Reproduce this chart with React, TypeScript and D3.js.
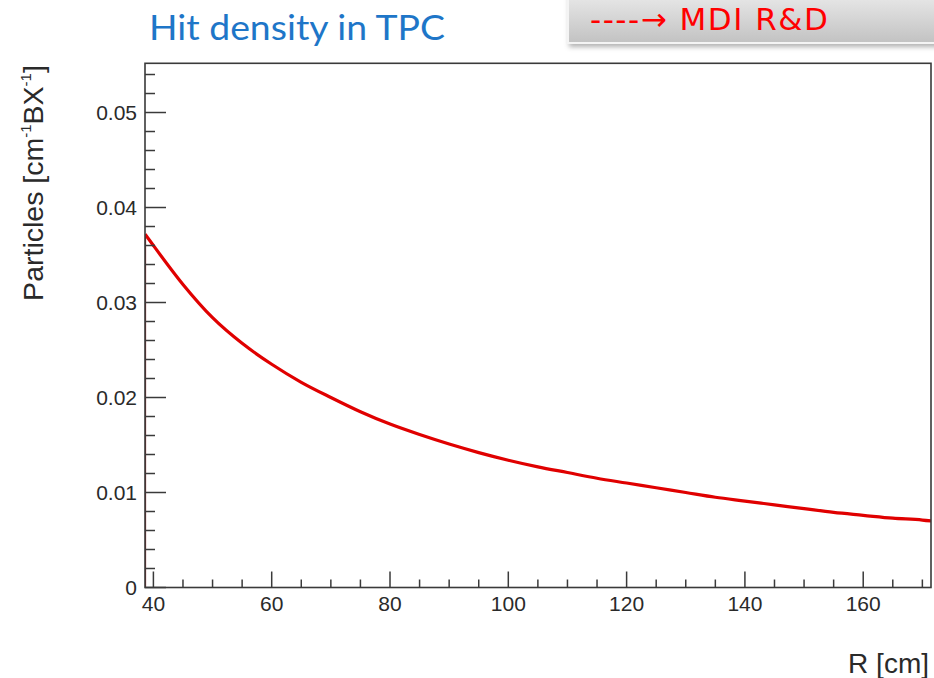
import React from "react";
import * as d3 from "d3";

// Hit density per bunch crossing versus radius in the TPC
const radiusCm = [38.6, 40, 45, 50, 55, 60, 65, 70, 75, 80, 85, 90, 95, 100, 105, 110, 115, 120, 125, 130, 135, 140, 145, 150, 155, 160, 165, 170, 171.5];
const density = [0.0372, 0.036, 0.0319, 0.0284, 0.0257, 0.0235, 0.0216, 0.02, 0.0185, 0.0172, 0.0161, 0.0151, 0.0142, 0.0134, 0.0127, 0.0121, 0.0115, 0.011, 0.0105, 0.01, 0.0095, 0.0091, 0.0087, 0.0083, 0.0079, 0.0076, 0.0073, 0.0071, 0.007];

const xMajorTicks = [40, 60, 80, 100, 120, 140, 160];
const yMajorTicks = [0, 0.01, 0.02, 0.03, 0.04, 0.05];
const yTickLabels = ["0", "0.01", "0.02", "0.03", "0.04", "0.05"];

const title = "Hit density in TPC";
const banner = "----\u2192 MDI R&D";
const xLabel = "R [cm]";

const W = 934;
const H = 678;
const frame = { left: 145, right: 931, top: 63.3, bottom: 587.5 };

export default function App() {
  const x = d3.scaleLinear().domain([38.58, 171.46]).range([frame.left, frame.right]);
  const y = d3.scaleLinear().domain([0, 0.05518]).range([frame.bottom, frame.top]);

  const xMinor = d3.range(40, 171, 5).filter((v) => v % 20 !== 0);
  const yMinor = d3.range(0, 0.0551, 0.002).filter((v) => Math.abs(Math.round(v * 100) - v * 100) > 1e-6);

  const pts: [number, number][] = radiusCm.map((r, i) => [r, density[i]]);
  const line = d3
    .line<[number, number]>()
    .x((d) => x(d[0]))
    .y((d) => y(d[1]))
    .curve(d3.curveMonotoneX);
  const curvePath = line(pts) || "";
  const riser = `M${x(radiusCm[0])},${y(0)}L${x(radiusCm[0])},${y(density[0])}`;

  const tickFont = "Liberation Sans, Arial, Helvetica, sans-serif";

  return (
    <svg
      width={W}
      height={H}
      style={{ position: "absolute", left: 0, top: 0, background: "#fff" }}
    >
      <defs>
        <linearGradient id="bannerFill" x1="0" y1="0" x2="0" y2="1">
          <stop offset="0%" stopColor="#ececec" />
          <stop offset="100%" stopColor="#c2c2c2" />
        </linearGradient>
        <filter id="bannerShadow" x="-5%" y="-20%" width="110%" height="160%">
          <feDropShadow dx="2" dy="3" stdDeviation="2.5" floodColor="#000" floodOpacity="0.3" />
        </filter>
        <clipPath id="plotClip">
          <rect x={frame.left} y={frame.top} width={frame.right - frame.left} height={frame.bottom - frame.top} />
        </clipPath>
      </defs>

      {/* banner in the top right corner */}
      <g filter="url(#bannerShadow)">
        <rect x={568} y={-10} width={380} height={53} fill="url(#bannerFill)" stroke="#f4f4f4" strokeWidth={2} />
      </g>
      <text
        x={590}
        y={29.5}
        fill="#ff0000"
        fontFamily="'Comic Sans MS', 'DejaVu Sans', sans-serif"
        fontSize={31}
        fontWeight={500}
        letterSpacing={1.5}
      >
        {banner}
      </text>

      {/* title */}
      <text
        x={149}
        y={39.5}
        fill="#1e76c8"
        fontFamily="Lato, 'Open Sans', sans-serif"
        fontSize={35}
        textLength={296}
        lengthAdjust="spacingAndGlyphs"
      >
        {title}
      </text>

      {/* data curve */}
      <g clipPath="url(#plotClip)">
        <path d={riser} fill="none" stroke="#8b1a1a" strokeWidth={2} />
        <path d={curvePath} fill="none" stroke="#e00000" strokeWidth={3.2} strokeLinejoin="round" />
      </g>

      {/* frame */}
      <rect
        x={frame.left}
        y={frame.top}
        width={frame.right - frame.left}
        height={frame.bottom - frame.top}
        fill="none"
        stroke="#3a3a3a"
        strokeWidth={1.6}
      />

      {/* y ticks */}
      {yMajorTicks.map((v) => (
        <line key={"ym" + v} x1={frame.left} x2={frame.left + 21} y1={y(v)} y2={y(v)} stroke="#3a3a3a" strokeWidth={1.5} />
      ))}
      {yMinor.map((v) => (
        <line key={"yn" + v} x1={frame.left} x2={frame.left + 10} y1={y(v)} y2={y(v)} stroke="#3a3a3a" strokeWidth={1.5} />
      ))}
      {yMajorTicks.map((v, i) => (
        <text
          key={"yl" + v}
          x={137}
          y={y(v) + 7.5}
          textAnchor="end"
          fontFamily={tickFont}
          fontSize={21}
          fill="#2a2a2a"
        >
          {yTickLabels[i]}
        </text>
      ))}

      {/* x ticks */}
      {xMajorTicks.map((v) => (
        <line key={"xm" + v} x1={x(v)} x2={x(v)} y1={frame.bottom} y2={frame.bottom - 16} stroke="#3a3a3a" strokeWidth={1.5} />
      ))}
      {xMinor.map((v) => (
        <line key={"xn" + v} x1={x(v)} x2={x(v)} y1={frame.bottom} y2={frame.bottom - 8} stroke="#3a3a3a" strokeWidth={1.5} />
      ))}
      {xMajorTicks.map((v) => (
        <text
          key={"xl" + v}
          x={x(v)}
          y={611}
          textAnchor="middle"
          fontFamily={tickFont}
          fontSize={21}
          fill="#2a2a2a"
        >
          {String(v)}
        </text>
      ))}

      {/* axis titles */}
      <text x={929} y={673} textAnchor="end" fontFamily={tickFont} fontSize={28} fill="#2a2a2a">
        {xLabel}
      </text>
      <text
        transform={`translate(43,183) rotate(-90)`}
        textAnchor="middle"
        fontFamily={tickFont}
        fontSize={28.5}
        fill="#2a2a2a"
      >
        Particles [cm
        <tspan fontSize={15} dy={-12}>-1</tspan>
        <tspan dy={12}>BX</tspan>
        <tspan fontSize={15} dy={-12}>-1</tspan>
        <tspan dy={12}>]</tspan>
      </text>
    </svg>
  );
}
